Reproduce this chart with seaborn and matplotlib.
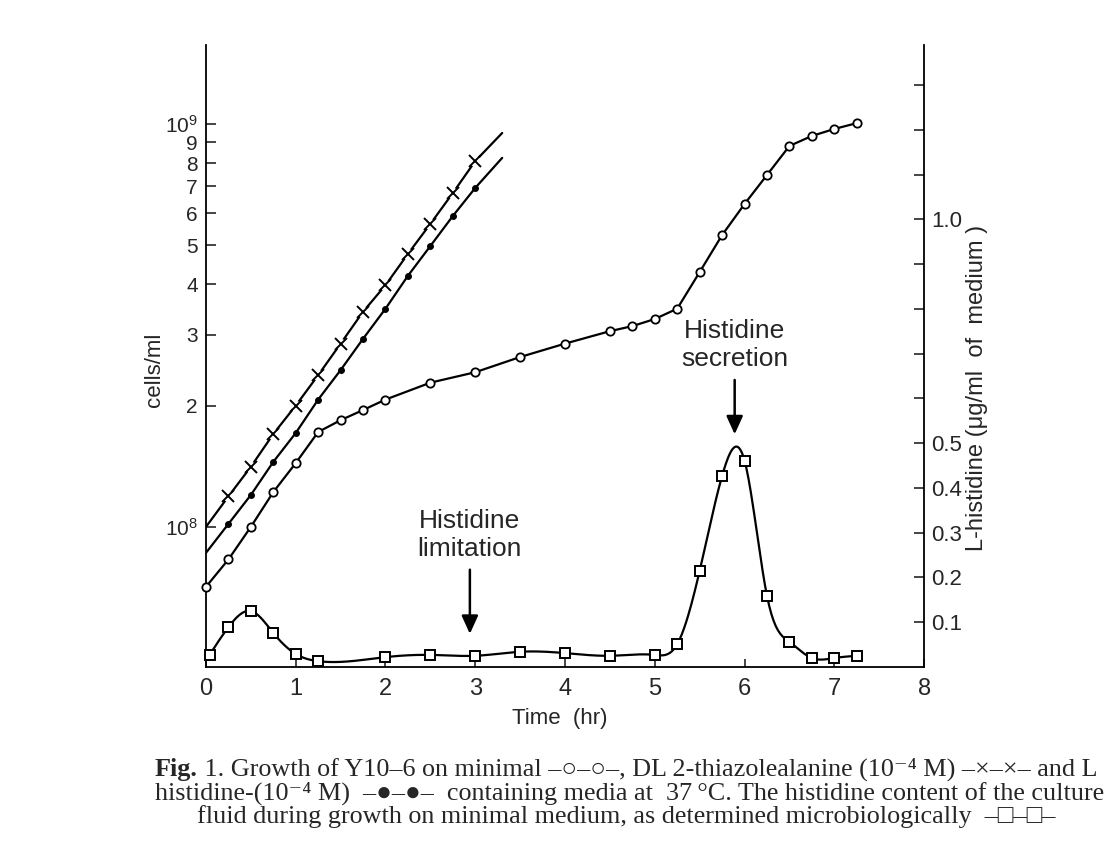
import numpy as np
import pandas as pd
import matplotlib
matplotlib.use("Agg")
import matplotlib.pyplot as plt
import seaborn as sns
from matplotlib.ticker import FixedLocator, FixedFormatter, NullLocator

# ---------------- data ----------------
min_time = [0, 0.25, 0.5, 0.75, 1.0, 1.25, 1.5, 1.75, 2.0, 2.5, 3.0, 3.5, 4.0,
            4.5, 4.75, 5.0, 5.25, 5.5, 5.75, 6.0, 6.25, 6.5, 6.75, 7.0, 7.25]
min_cells = [7.1e7, 8.3e7, 1.0e8, 1.22e8, 1.44e8, 1.72e8, 1.84e8, 1.95e8, 2.07e8,
             2.28e8, 2.42e8, 2.64e8, 2.85e8, 3.06e8, 3.15e8, 3.28e8, 3.48e8,
             4.29e8, 5.3e8, 6.33e8, 7.47e8, 8.82e8, 9.34e8, 9.72e8, 1.005e9]

# thiazolealanine (first and last entries = ends of the drawn line, no marker)
thz_time = [0, 0.25, 0.5, 0.75, 1.0, 1.25, 1.5, 1.75, 2.0, 2.25, 2.5, 2.75, 3.0, 3.3]
thz_cells = [1.0e8, 1.19e8, 1.41e8, 1.70e8, 2.0e8, 2.38e8, 2.85e8, 3.42e8, 3.98e8,
             4.76e8, 5.65e8, 6.74e8, 8.09e8, 9.5e8]

# L-histidine medium (first and last entries = ends of the drawn line, no marker)
his_time = [0, 0.25, 0.5, 0.75, 1.0, 1.25, 1.5, 1.75, 2.0, 2.25, 2.5, 2.75, 3.0, 3.3]
his_cells = [8.62e7, 1.017e8, 1.20e8, 1.45e8, 1.71e8, 2.07e8, 2.45e8, 2.93e8, 3.48e8,
             4.2e8, 4.98e8, 5.91e8, 6.94e8, 8.24e8]

# histidine content of culture fluid (ug/ml)
conc_time = [0.04, 0.25, 0.5, 0.75, 1.0, 1.25, 2.0, 2.5, 3.0, 3.5, 4.0, 4.5, 5.0,
             5.25, 5.5, 5.75, 6.0, 6.25, 6.5, 6.75, 7.0, 7.25]
conc = [0.027, 0.089, 0.125, 0.076, 0.029, 0.013, 0.022, 0.027, 0.025, 0.034, 0.031,
        0.025, 0.027, 0.051, 0.215, 0.427, 0.461, 0.159, 0.056, 0.020, 0.020, 0.025]

left_ticks = [1e8, 2e8, 3e8, 4e8, 5e8, 6e8, 7e8, 8e8, 9e8, 1e9]
left_labels = ["$10^8$", "2", "3", "4", "5", "6", "7", "8", "9", "$10^9$"]
right_ticks = [0.1, 0.2, 0.3, 0.4, 0.5, 0.6, 0.7, 0.8, 0.9, 1.0, 1.1, 1.2, 1.3]
right_labels = ["0.1", "0.2", "0.3", "0.4", "0.5", "", "", "", "", "1.0", "", "", ""]
x_ticks = [0, 1, 2, 3, 4, 5, 6, 7, 8]

caption = [
    " 1. Growth of Y10\u20136 on minimal \u2013\u25cb\u2013\u25cb\u2013, DL 2-thiazolealanine (10\u207b\u2074 M) \u2013\u00d7\u2013\u00d7\u2013 and L",
    "histidine-(10\u207b\u2074 M)  \u2013\u25cf\u2013\u25cf\u2013  containing media at  37\u2009\u00b0C. The histidine content of the culture",
    "fluid during growth on minimal medium, as determined microbiologically  \u2013\u25a1\u2013\u25a1\u2013",
]


def natural_spline(x, y, xs):
    x = np.asarray(x, float); y = np.asarray(y, float)
    n = len(x); h = np.diff(x)
    A = np.zeros((n, n)); b = np.zeros(n)
    A[0, 0] = A[-1, -1] = 1
    for i in range(1, n - 1):
        A[i, i - 1] = h[i - 1]; A[i, i] = 2 * (h[i - 1] + h[i]); A[i, i + 1] = h[i]
        b[i] = 3 * ((y[i + 1] - y[i]) / h[i] - (y[i] - y[i - 1]) / h[i - 1])
    c = np.linalg.solve(A, b)
    idx = np.clip(np.searchsorted(x, xs) - 1, 0, n - 2)
    dx = xs - x[idx]
    bb = (y[idx + 1] - y[idx]) / h[idx] - h[idx] * (2 * c[idx] + c[idx + 1]) / 3
    d = (c[idx + 1] - c[idx]) / (3 * h[idx])
    return y[idx] + bb * dx + c[idx] * dx ** 2 + d * dx ** 3


# ---------------- style ----------------
sns.set_style("ticks")
plt.rcParams["font.family"] = ["Liberation Sans", "DejaVu Sans"]
plt.rcParams["mathtext.fontset"] = "custom"
plt.rcParams["mathtext.rm"] = "Liberation Sans"
plt.rcParams["mathtext.it"] = "Liberation Sans:italic"

fig = plt.figure(figsize=(11.14, 8.68), dpi=100)
ax = fig.add_axes([0.1849, 0.2316, 0.6446, 0.7166])
ax2 = ax.twinx()

K = "black"
LW = 1.6

# minimal medium: open circles
sns.lineplot(x=min_time, y=min_cells, ax=ax, color=K, lw=LW, estimator=None, sort=False,
             marker="o", markersize=6, markerfacecolor="white", markeredgecolor=K,
             markeredgewidth=1.3, zorder=3, clip_on=False)

# thiazolealanine: crosses with gaps in the line
sns.lineplot(x=thz_time, y=thz_cells, ax=ax, color=K, lw=LW, estimator=None, sort=False, zorder=2)
sns.lineplot(x=thz_time[1:-1], y=thz_cells[1:-1], ax=ax, color="white", linestyle="none",
             estimator=None, sort=False, marker="o", markersize=7,
             markerfacecolor="white", markeredgecolor="white", zorder=3)
sns.lineplot(x=thz_time[1:-1], y=thz_cells[1:-1], ax=ax, color=K, linestyle="none",
             estimator=None, sort=False, marker="x", markersize=8,
             markeredgecolor=K, markeredgewidth=1.4, zorder=4)

# L-histidine: filled circles
sns.lineplot(x=his_time, y=his_cells, ax=ax, color=K, lw=LW, estimator=None, sort=False, zorder=2)
sns.lineplot(x=his_time[1:-1], y=his_cells[1:-1], ax=ax, color=K, linestyle="none",
             estimator=None, sort=False, marker="o", markersize=4.2,
             markerfacecolor=K, markeredgecolor=K, zorder=4)

ax.set_yscale("log")
ax.set_xlim(0, 8)
ax.set_ylim(4.49e7, 1.571e9)
ax.yaxis.set_major_locator(FixedLocator(left_ticks))
ax.yaxis.set_major_formatter(FixedFormatter(left_labels))
ax.yaxis.set_minor_locator(NullLocator())
ax.set_xticks(x_ticks)
ax.set_xticklabels([str(t) for t in x_ticks])
ax.tick_params(axis="y", direction="in", length=7, width=1.2, labelsize=15, pad=6)
ax.tick_params(axis="x", direction="in", length=6, width=1.2, labelsize=17, pad=8)

# histidine content: smooth curve + open squares on right axis
xs = np.linspace(conc_time[0], conc_time[-1], 600)
ys = natural_spline(conc_time, conc, xs)
sns.lineplot(x=xs, y=ys, ax=ax2, color=K, lw=LW, estimator=None, sort=False, zorder=2)
sns.lineplot(x=conc_time, y=conc, ax=ax2, color=K, linestyle="none", estimator=None,
             sort=False, marker="s", markersize=7.5, markerfacecolor="white",
             markeredgecolor=K, markeredgewidth=1.4, zorder=4, clip_on=False)
ax2.set_ylim(0, 1.39)
ax2.set_xlim(0, 8)
ax2.yaxis.set_major_locator(FixedLocator(right_ticks))
ax2.yaxis.set_major_formatter(FixedFormatter(right_labels))
ax2.yaxis.set_minor_locator(NullLocator())
ax2.tick_params(axis="y", direction="in", length=7, width=1.2, labelsize=16, pad=5)

for a in (ax, ax2):
    a.grid(False)
    a.spines["top"].set_visible(False)
    for s in a.spines.values():
        s.set_linewidth(1.3)
        s.set_color(K)
ax.spines["right"].set_visible(False)
ax2.spines["left"].set_visible(False)
ax2.spines["bottom"].set_visible(False)

ax.set_xlabel("Time  (hr)", fontsize=16)
ax.xaxis.set_label_coords(0.493, -0.066)
ax.set_ylabel("cells/ml", fontsize=16)
ax.yaxis.set_label_coords(-0.057, 0.477)
ax2.set_ylabel("L-histidine (\u03bcg/ml  of  medium )", fontsize=17, rotation=90)
ax2.yaxis.set_label_coords(1.058, 0.449)

arrow = dict(arrowstyle="-|>,head_length=0.55,head_width=0.25", color=K, lw=1.8,
             mutation_scale=20, shrinkA=4, shrinkB=0)
ax2.annotate("Histidine\nlimitation", xy=(2.94, 0.074), xytext=(2.94, 0.295),
             ha="center", va="center", fontsize=19, arrowprops=arrow)
ax2.annotate("Histidine\nsecretion", xy=(5.89, 0.52), xytext=(5.89, 0.719),
             ha="center", va="center", fontsize=19, arrowprops=arrow)

# ---------------- caption ----------------
serif = ["Liberation Serif", "DejaVu Serif", "DejaVu Sans"]
CFS = 18.8
t0 = fig.text(155 / 1114, 1 - 776 / 868, "Fig.", fontsize=CFS, family=serif,
              weight="bold", va="baseline", ha="left")
ax.annotate(caption[0], xy=(1, 0), xycoords=t0, va="bottom", ha="left",
            fontsize=CFS, family=serif, annotation_clip=False)
fig.text(155 / 1114, 1 - 800 / 868, caption[1], fontsize=CFS, family=serif,
         va="baseline", ha="left")
fig.text(197 / 1114, 1 - 823 / 868, caption[2], fontsize=CFS, family=serif,
         va="baseline", ha="left")

fig.savefig("out.png", dpi=100)
